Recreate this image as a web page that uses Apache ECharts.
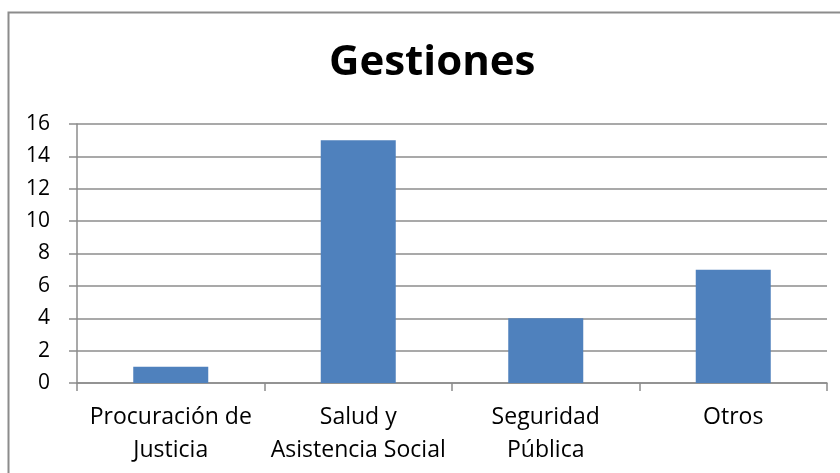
<!DOCTYPE html>
<html>
<head>
<meta charset="utf-8">
<script src="https://cdn.jsdelivr.net/npm/echarts@6/dist/echarts.min.js"></script>
<style>
  html, body { margin: 0; padding: 0; background: #fff; }
  #chart { width: 840px; height: 473px; }
</style>
</head>
<body>
<div id="chart"></div>
<script>
const categories = ["Procuración de\nJusticia", "Salud y\nAsistencia Social", "Seguridad\nPública", "Otros"];
const gestiones = [1, 15, 4, 7];
const yTicks = { min: 0, max: 16, interval: 2 };

const font = "'Open Sans', sans-serif";
const chart = echarts.init(document.getElementById("chart"), null, { renderer: "canvas" });

chart.setOption({
  animation: false,
  title: {
    text: "Gestiones",
    left: 324,
    top: 37,
    textStyle: { fontFamily: font, fontSize: 42, fontWeight: "bold", color: "#000" },
  },
  graphic: [
    {
      type: "rect",
      shape: { x: 8.5, y: 12.5, width: 840, height: 480 },
      style: { fill: "none", stroke: "#8c8c8c", lineWidth: 2 },
      silent: true,
    },
  ],
  grid: { left: 77, right: 13, top: 124, bottom: 90 },
  xAxis: {
    type: "category",
    data: categories,
    axisLine: { lineStyle: { color: "#8c8c8c", width: 1.5 } },
    axisTick: { show: true, length: 8, lineStyle: { color: "#8c8c8c", width: 1.5 } },
    axisLabel: {
      fontFamily: font,
      fontSize: 23,
      color: "#000",
      lineHeight: 33,
      margin: 18,
      interval: 0,
    },
  },
  yAxis: {
    type: "value",
    min: yTicks.min,
    max: yTicks.max,
    interval: yTicks.interval,
    axisLine: { show: true, lineStyle: { color: "#8c8c8c", width: 1.5 } },
    axisTick: { show: true, length: 8, lineStyle: { color: "#8c8c8c", width: 1.5 } },
    splitLine: { lineStyle: { color: "#8c8c8c", width: 1.5 } },
    axisLabel: { fontFamily: font, fontSize: 21, color: "#000", margin: 27 },
  },
  series: [
    {
      name: "Gestiones",
      type: "bar",
      data: gestiones,
      barCategoryGap: "60%",
      itemStyle: { color: "#4f81bd" },
    },
  ],
});
</script>
</body>
</html>
